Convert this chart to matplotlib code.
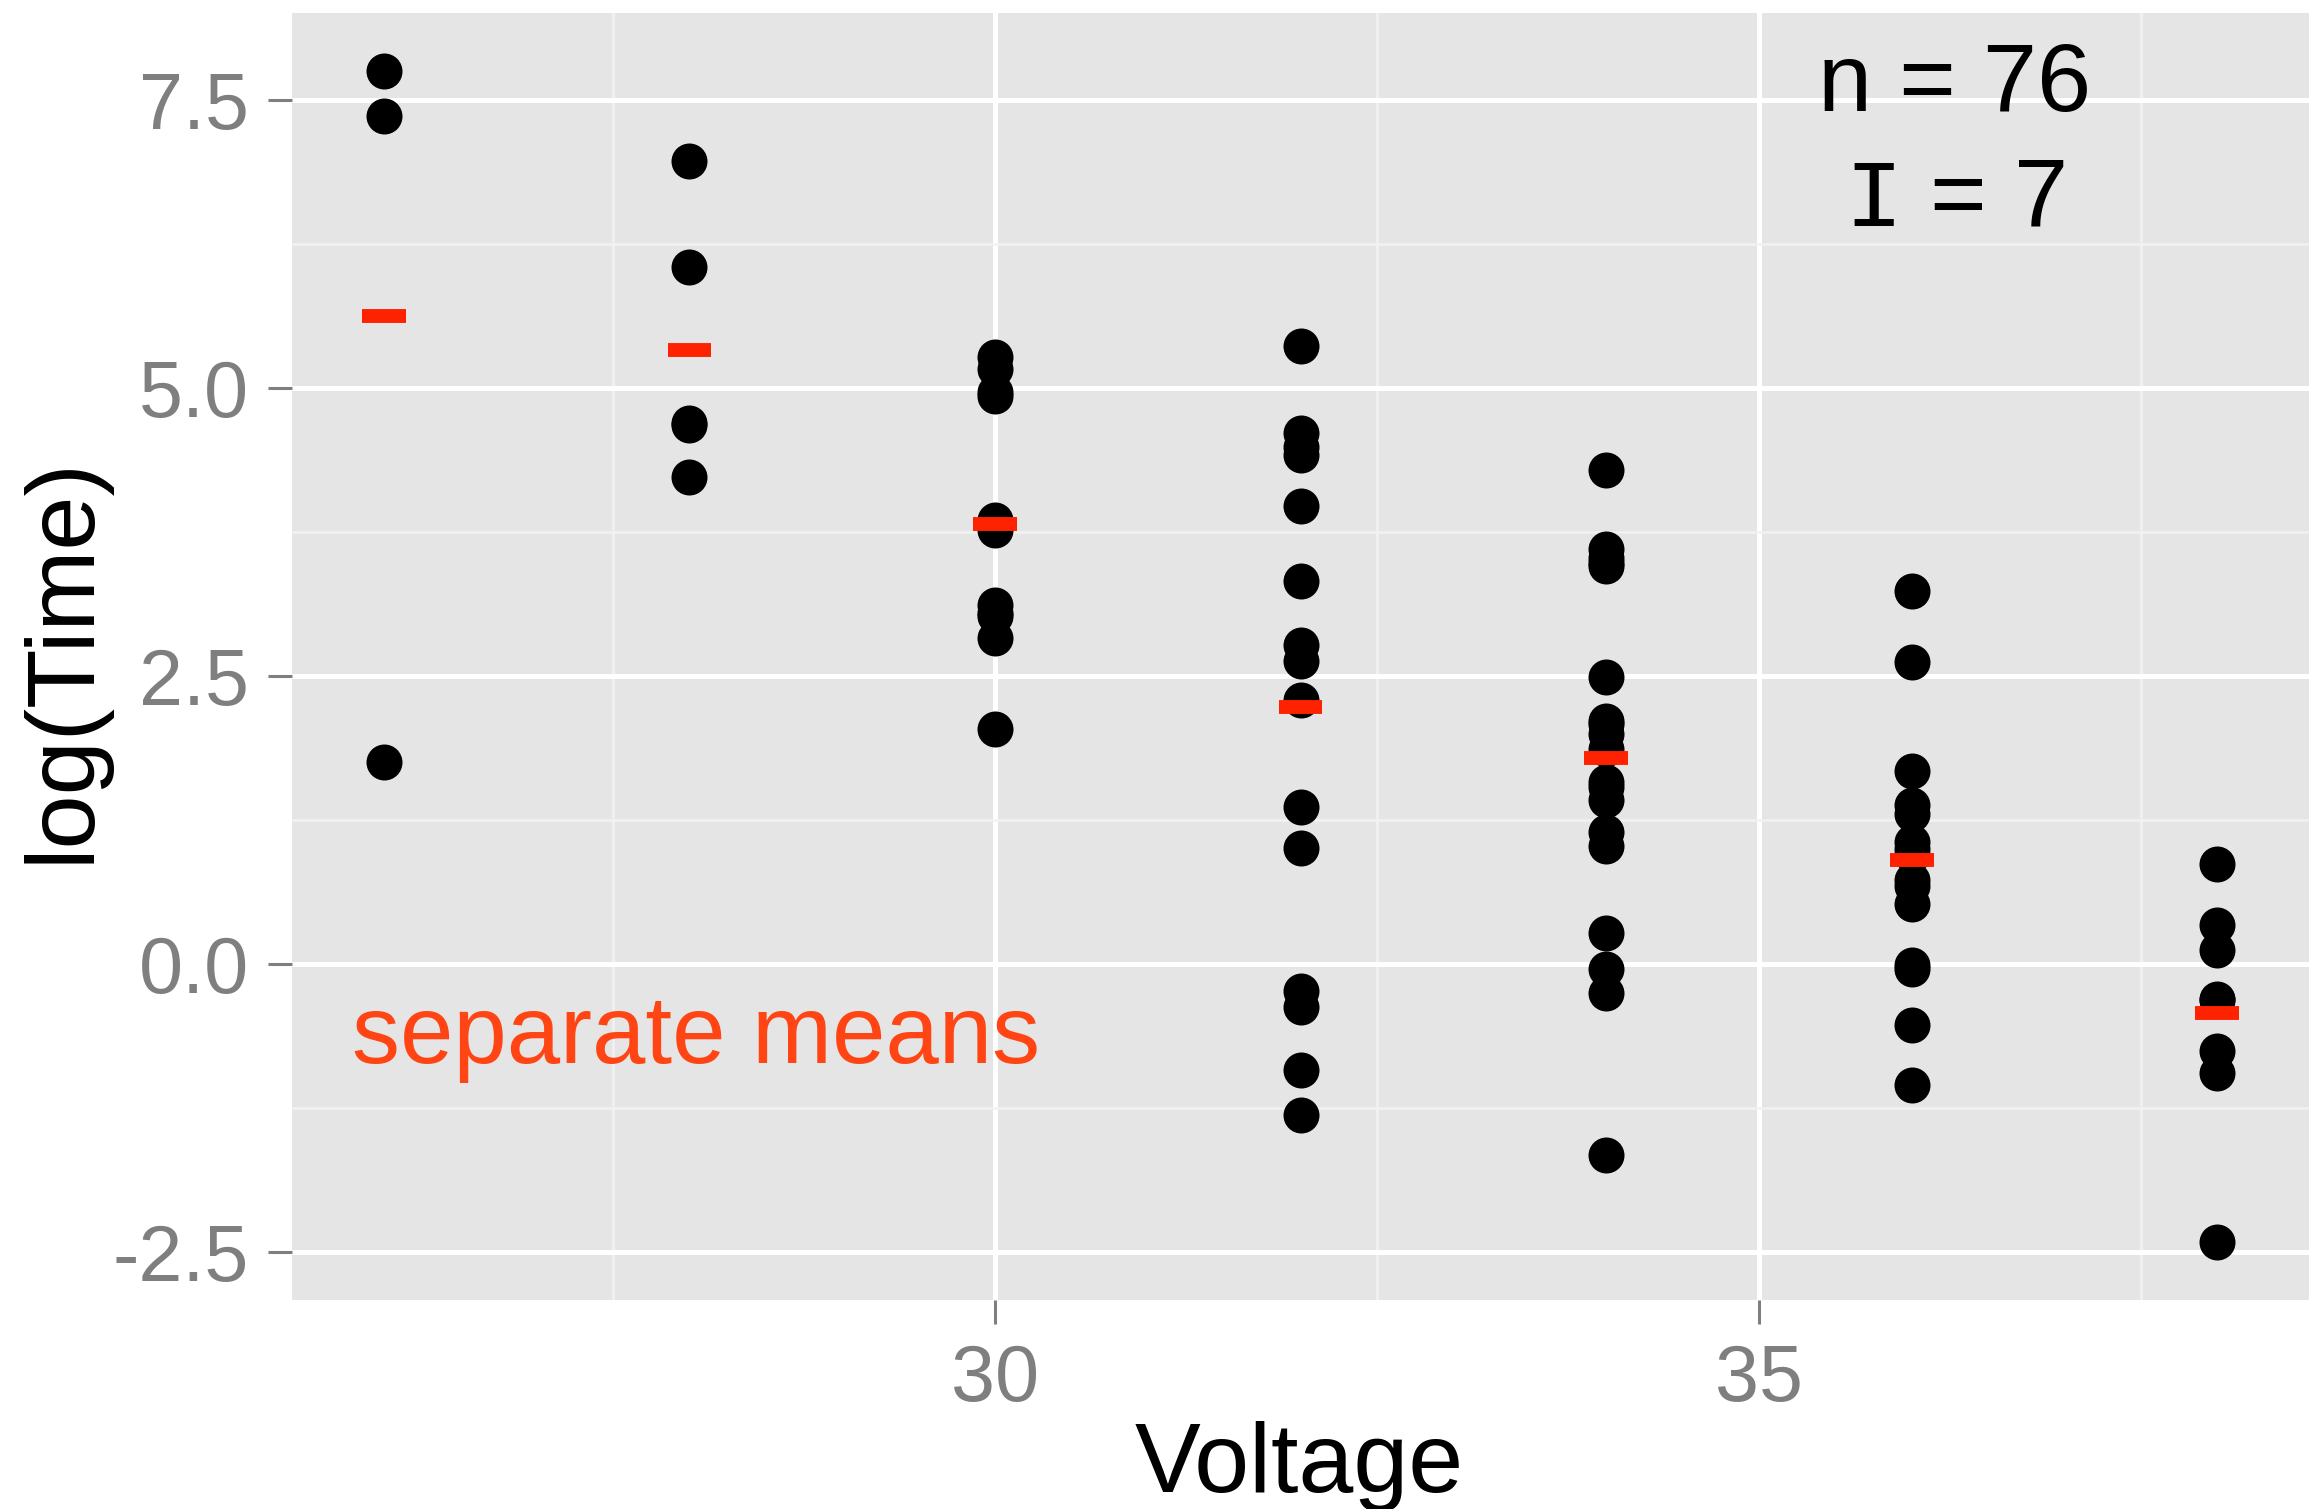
import numpy as np
import matplotlib
matplotlib.use('Agg')
import matplotlib.pyplot as plt
from matplotlib.ticker import FixedLocator, FixedFormatter

plt.rcParams.update({
    'font.family': ['Liberation Sans', 'DejaVu Sans'],
    'mathtext.fontset': 'custom',
    'mathtext.rm': 'Liberation Sans',
    'mathtext.tt': 'Liberation Mono',
    'axes.unicode_minus': False,
})

# log(Time) read per voltage group
voltages = [26, 28, 30, 32, 34, 36, 38]
lt26 = [1.756, 7.365, 7.751]
lt28 = [4.232, 4.685, 4.703, 6.055, 6.973]
lt30 = [2.836, 3.121, 3.046, 5.170, 4.935, 4.971, 3.019, 3.770, 5.273, 3.857, 2.046]
lt32 = [-0.916, 4.417, 2.291, 4.492, 5.371, 1.012, -0.236, 2.768, 1.364, -1.309,
        -0.371, 4.611, 3.325, 2.636, 3.975]
lt34 = [-0.041, 1.423, -1.661, -0.248, 2.081, 3.458, 1.995, 1.872, 2.113, 3.524,
        3.482, 1.151, 1.579, 1.022, 1.541, 0.270, 2.490, 3.603, 4.289]
lt36 = [0.678, -0.528, 0.948, 0.525, 0.997, 3.239, -1.050, -0.010, 1.384, 1.300,
        0.728, -0.041, 1.677, 1.065, 2.623]
lt38 = [-0.755, -0.315, 0.336, -0.301, -0.942, 0.122, -2.408, 0.867]
groups = [lt26, lt28, lt30, lt32, lt34, lt36, lt38]

x_ticks = [30, 35]
x_ticklabels = ['30', '35']
x_minor = [27.5, 32.5, 37.5]
y_ticks = [-2.5, 0.0, 2.5, 5.0, 7.5]
y_ticklabels = ['-2.5', '0.0', '2.5', '5.0', '7.5']
y_minor = [-1.25, 1.25, 3.75, 6.25]

xs = np.concatenate([[v] * len(g) for v, g in zip(voltages, groups)])
ys = np.concatenate(groups)
means = [np.mean(g) for g in groups]

fig = plt.figure(figsize=(23.09, 15.09), dpi=100)
ax = fig.add_axes([0.1265, 0.1385, 0.8735, 0.8529])
ax.set_facecolor('#E5E5E5')
for s in ax.spines.values():
    s.set_visible(False)

ax.scatter(xs, ys, s=(36 * 0.72) ** 2, color='black', linewidths=0, zorder=3)
ax.hlines(means, np.array(voltages) - 0.143, np.array(voltages) + 0.143,
          color='#FF2200', lw=10, capstyle='butt', zorder=4)

xr = max(voltages) - min(voltages)
ax.set_xlim(min(voltages) - 0.05 * xr, max(voltages) + 0.05 * xr)
yr = ys.max() - ys.min()
ax.set_ylim(ys.min() - 0.05 * yr, ys.max() + 0.05 * yr)

ax.xaxis.set_major_locator(FixedLocator(x_ticks))
ax.xaxis.set_major_formatter(FixedFormatter(x_ticklabels))
ax.xaxis.set_minor_locator(FixedLocator(x_minor))
ax.yaxis.set_major_locator(FixedLocator(y_ticks))
ax.yaxis.set_major_formatter(FixedFormatter(y_ticklabels))
ax.yaxis.set_minor_locator(FixedLocator(y_minor))

ax.set_axisbelow(True)
ax.grid(which='major', color='white', lw=3.6)
ax.grid(which='minor', color='#F2F2F2', lw=1.8)
ax.tick_params(which='major', length=17, width=2.2, color='#7F7F7F',
               labelcolor='#7F7F7F', labelsize=57, pad=14)
ax.tick_params(which='minor', length=0)

ax.text(25.795, -0.862, 'separate means', color='#FF4513', fontsize=69,
        ha='left', va='baseline')
ax.text(36.28, 7.406, 'n = 76', color='black', fontsize=70,
        ha='center', va='baseline')
ax.text(36.28, 6.415, r'$\mathtt{I}$ = 7', color='black', fontsize=70,
        ha='center', va='baseline')

fig.text(1299 / 2309, 1 - 1492 / 1509, 'Voltage', fontsize=71,
         ha='center', va='baseline')
fig.text(64 / 2309, 1 - 660 / 1509, 'log(Time)', fontsize=70,
         rotation=90, ha='center', va='center')

fig.savefig('out.png', dpi=100)
